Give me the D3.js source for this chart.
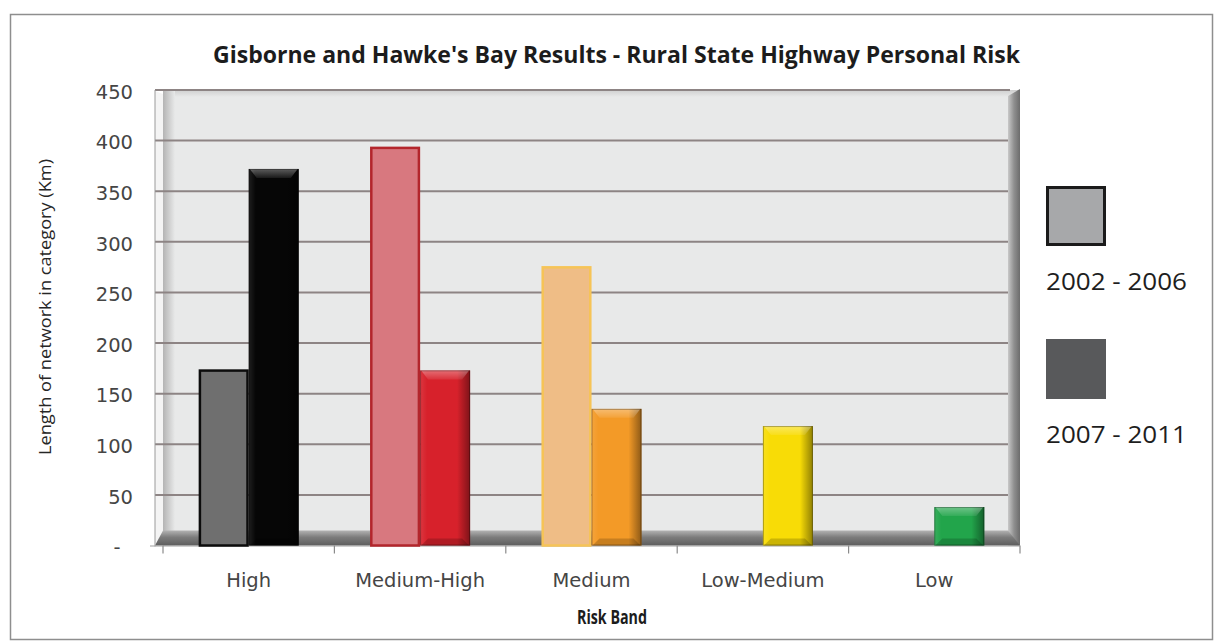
<!DOCTYPE html>
<html>
<head>
<meta charset="utf-8">
<script src="https://cdn.jsdelivr.net/npm/d3@7"></script>
<style>
  html, body { margin: 0; padding: 0; background: #ffffff; }
  svg { display: block; }
</style>
</head>
<body>
<script>
// ---------- DATA ----------
const categories = ["High", "Medium-High", "Medium", "Low-Medium", "Low"];
const seriesNames = ["2002 - 2006", "2007 - 2011"];
const values2002 = [174, 394, 276, null, null];
const values2007 = [372, 173, 135, 118, 38];
const yTickValues = [0, 50, 100, 150, 200, 250, 300, 350, 400, 450];
const fill2002 = ["#6f6f6f", "#d8787f", "#efbd86", "#f3e27a", "#7ccb93"];
const stroke2002 = ["#0c0c0c", "#b3262c", "#f6c457", "#e6c800", "#1a8a3c"];
const fill2007 = ["#060606", "#d7212b", "#f39a27", "#f8dc06", "#22a54b"];
const legendFill = ["#a7a8aa", "#58595b"];
const titleText = "Gisborne and Hawke's Bay Results - Rural State Highway Personal Risk";
const yTitle = "Length of network in category (Km)";
const xTitle = "Risk Band";

// ---------- SETUP ----------
const W = 1219, H = 643;
const svg = d3.select("body").append("svg").attr("width", W).attr("height", H);
svg.append("rect").attr("width", W).attr("height", H).attr("fill", "#ffffff");

const defs = svg.append("defs");
function linGrad(id, x2, y2, stops) {
  const g = defs.append("linearGradient").attr("id", id)
    .attr("x1", 0).attr("y1", 0).attr("x2", x2).attr("y2", y2);
  stops.forEach(s => g.append("stop").attr("offset", s[0]).attr("stop-color", s[1]).attr("stop-opacity", s[2] === undefined ? 1 : s[2]));
}
linGrad("leftWall", 1, 0, [[0, "#b4b4b4"], [1, "#e8e9e9"]]);
linGrad("rightWall", 1, 0, [[0, "#c9c9c9"], [0.5, "#8f8f8f"], [1, "#6c6c6c"]]);
linGrad("topWall", 0, 1, [[0, "#cfcfcf"], [1, "#e8e9e9"]]);
linGrad("floor", 0, 1, [[0, "#b3b3b3"], [0.45, "#7c7c7c"], [1, "#5e5e5e"]]);
linGrad("barShade", 1, 0, [[0, "#ffffff", 0.1], [0.14, "#ffffff", 0], [0.74, "#000000", 0], [1, "#000000", 0.42]]);
linGrad("barTop", 0, 1, [[0, "#ffffff", 0.35], [1, "#ffffff", 0.08]]);

// Outer border
svg.append("rect").attr("x", 10.5).attr("y", 14.5).attr("width", 1202).attr("height", 625)
  .attr("fill", "none").attr("stroke", "#8e8e8e").attr("stroke-width", 1.5);

// ---------- SCALES ----------
const x = d3.scaleBand().domain(categories).range([163, 1020]).paddingInner(0).paddingOuter(0);
const x1 = d3.scaleBand().domain(seriesNames).range([0, x.bandwidth()]).paddingInner(0).paddingOuter(0.714);
const y = d3.scaleLinear().domain([0, 450]).range([545.5, 90]);

const pLeft = x.range()[0], pRight = x.range()[1];
const pTop = y(450), pBottom = y(0);

// ---------- WALLS ----------
svg.append("rect").attr("x", pLeft).attr("y", pTop).attr("width", pRight - pLeft).attr("height", pBottom - pTop)
  .attr("fill", "#e8e9e9");
svg.append("rect").attr("x", pLeft).attr("y", pTop).attr("width", pRight - pLeft).attr("height", 7)
  .attr("fill", "url(#topWall)");
svg.append("rect").attr("x", pLeft).attr("y", pTop).attr("width", 12).attr("height", pBottom - pTop)
  .attr("fill", "url(#leftWall)");
// side-wall strip between axis and back wall
svg.append("polygon")
  .attr("points", [[155, pTop + 1], [pLeft, pTop + 4], [pLeft, pBottom], [155, pBottom]].map(p => p.join(",")).join(" "))
  .attr("fill", "#f4f4f4");

// gridlines
svg.append("g").selectAll("line").data(yTickValues.filter(d => d > 0)).join("line")
  .attr("x1", 155).attr("x2", pRight - 10)
  .attr("y1", d => y(d)).attr("y2", d => y(d))
  .attr("stroke", "#8d8484").attr("stroke-width", 2);

// right wall edge
svg.append("polygon")
  .attr("points", [[pRight - 12, pTop + 6], [pRight, pTop - 1], [pRight, pBottom], [pRight - 12, pBottom]].map(p => p.join(",")).join(" "))
  .attr("fill", "url(#rightWall)");

// floor
svg.append("polygon")
  .attr("points", [[pLeft, pBottom - 15], [pRight - 12, pBottom - 15], [pRight, pBottom], [155, pBottom]].map(p => p.join(",")).join(" "))
  .attr("fill", "url(#floor)");

// ---------- AXES ----------
svg.append("line").attr("x1", 155).attr("x2", 155).attr("y1", pTop).attr("y2", pBottom + 1)
  .attr("stroke", "#9a9a9a").attr("stroke-width", 1);
svg.append("line").attr("x1", 150).attr("x2", pRight).attr("y1", pBottom + 0.5).attr("y2", pBottom + 0.5)
  .attr("stroke", "#a0a0a0").attr("stroke-width", 1.2);
const boundaries = categories.map(c => x(c)).concat([pRight]);
svg.append("g").selectAll("line").data(boundaries).join("line")
  .attr("x1", d => d).attr("x2", d => d).attr("y1", pBottom).attr("y2", pBottom + 8)
  .attr("stroke", "#8a8a8a").attr("stroke-width", 1.2);

// Y tick labels via d3 axis
const yAxis = d3.axisLeft(y).tickValues(yTickValues).tickSize(0).tickPadding(22)
  .tickFormat(d => d === 0 ? "-\u00a0\u00a0" : d);
const yg = svg.append("g").attr("transform", "translate(155,0)").call(yAxis);
yg.select(".domain").remove();
yg.selectAll("text").attr("font-family", "'DejaVu Sans', Verdana, sans-serif").attr("font-size", 19.5)
  .attr("fill", "#454545").attr("dy", "0.42em");

// X category labels via d3 axis
const xAxis = d3.axisBottom(x).tickSize(0).tickPadding(0);
const xg = svg.append("g").attr("transform", "translate(0," + (pBottom) + ")").call(xAxis);
xg.select(".domain").remove();
xg.selectAll("text").attr("font-family", "'DejaVu Sans', Verdana, sans-serif").attr("font-size", 19.5)
  .attr("fill", "#454545").attr("dy", null).attr("y", 41);

// ---------- BARS ----------
const barsG = svg.append("g");
categories.forEach((c, i) => {
  const v1 = values2002[i];
  if (v1 != null) {
    const bx = x(c) + x1(seriesNames[0]);
    barsG.append("rect")
      .attr("x", bx + 1.2).attr("y", y(v1) + 1.2)
      .attr("width", x1.bandwidth() - 2.4).attr("height", y(0) - y(v1) - 1.2)
      .attr("fill", fill2002[i]).attr("stroke", stroke2002[i]).attr("stroke-width", 2.5);
  }
  const v2 = values2007[i];
  if (v2 != null) {
    const bx = x(c) + x1(seriesNames[1]);
    const bw = x1.bandwidth();
    const yt = y(v2), yb = y(0);
    barsG.append("rect").attr("x", bx).attr("y", yt).attr("width", bw).attr("height", yb - yt)
      .attr("fill", fill2007[i]);
    barsG.append("rect").attr("x", bx).attr("y", yt).attr("width", bw).attr("height", yb - yt)
      .attr("fill", "url(#barShade)");
    barsG.append("polygon")
      .attr("points", [[bx + 1, yt], [bx + bw - 1, yt], [bx + bw - 8, yt + 9], [bx + 8, yt + 9]].map(p => p.join(",")).join(" "))
      .attr("fill", "url(#barTop)");
    barsG.append("polygon")
      .attr("points", [[bx + 1, yb], [bx + bw - 1, yb], [bx + bw - 8, yb - 7], [bx + 8, yb - 7]].map(p => p.join(",")).join(" "))
      .attr("fill", "#000000").attr("fill-opacity", 0.18);
    barsG.append("rect").attr("x", bx + 0.5).attr("y", yt + 0.5).attr("width", bw - 1).attr("height", yb - yt - 1)
      .attr("fill", "none").attr("stroke", "#000000").attr("stroke-opacity", 0.3).attr("stroke-width", 1);
  }
});

// ---------- TITLES ----------
svg.append("text").attr("x", 213).attr("y", 63)
  .attr("font-family", "'Open Sans', 'Liberation Sans', sans-serif").attr("font-weight", "bold")
  .attr("font-size", 23).attr("fill", "#1c1c1c")
  .attr("textLength", 807).attr("lengthAdjust", "spacingAndGlyphs")
  .text(titleText);

svg.append("text").attr("transform", "translate(51,307) rotate(-90)")
  .attr("text-anchor", "middle")
  .attr("font-family", "'Open Sans', 'Liberation Sans', sans-serif")
  .attr("font-size", 17).attr("fill", "#262626")
  .attr("textLength", 296).attr("lengthAdjust", "spacingAndGlyphs")
  .text(yTitle);

svg.append("text").attr("x", 577).attr("y", 624)
  .attr("font-family", "'Open Sans', 'Liberation Sans', sans-serif").attr("font-weight", "bold")
  .attr("font-size", 20).attr("fill", "#1c1c1c")
  .attr("textLength", 70).attr("lengthAdjust", "spacingAndGlyphs")
  .text(xTitle);

// ---------- LEGEND ----------
const legendY = [186, 339];
const lg = svg.append("g");
seriesNames.forEach((s, i) => {
  if (i === 0) {
    lg.append("rect").attr("x", 1047.5).attr("y", legendY[i] + 1.5).attr("width", 57).attr("height", 57)
      .attr("fill", legendFill[i]).attr("stroke", "#1b1b1b").attr("stroke-width", 3);
  } else {
    lg.append("rect").attr("x", 1046).attr("y", legendY[i]).attr("width", 60).attr("height", 60)
      .attr("fill", legendFill[i]);
  }
  lg.append("text").attr("x", 1046).attr("y", legendY[i] + 104)
    .attr("font-family", "'Open Sans', Roboto, sans-serif").attr("font-weight", 400)
    .attr("font-size", 24).attr("fill", "#1e1e1e")
    .attr("textLength", 141).attr("lengthAdjust", "spacingAndGlyphs")
    .text(s);
});
</script>
</body>
</html>
